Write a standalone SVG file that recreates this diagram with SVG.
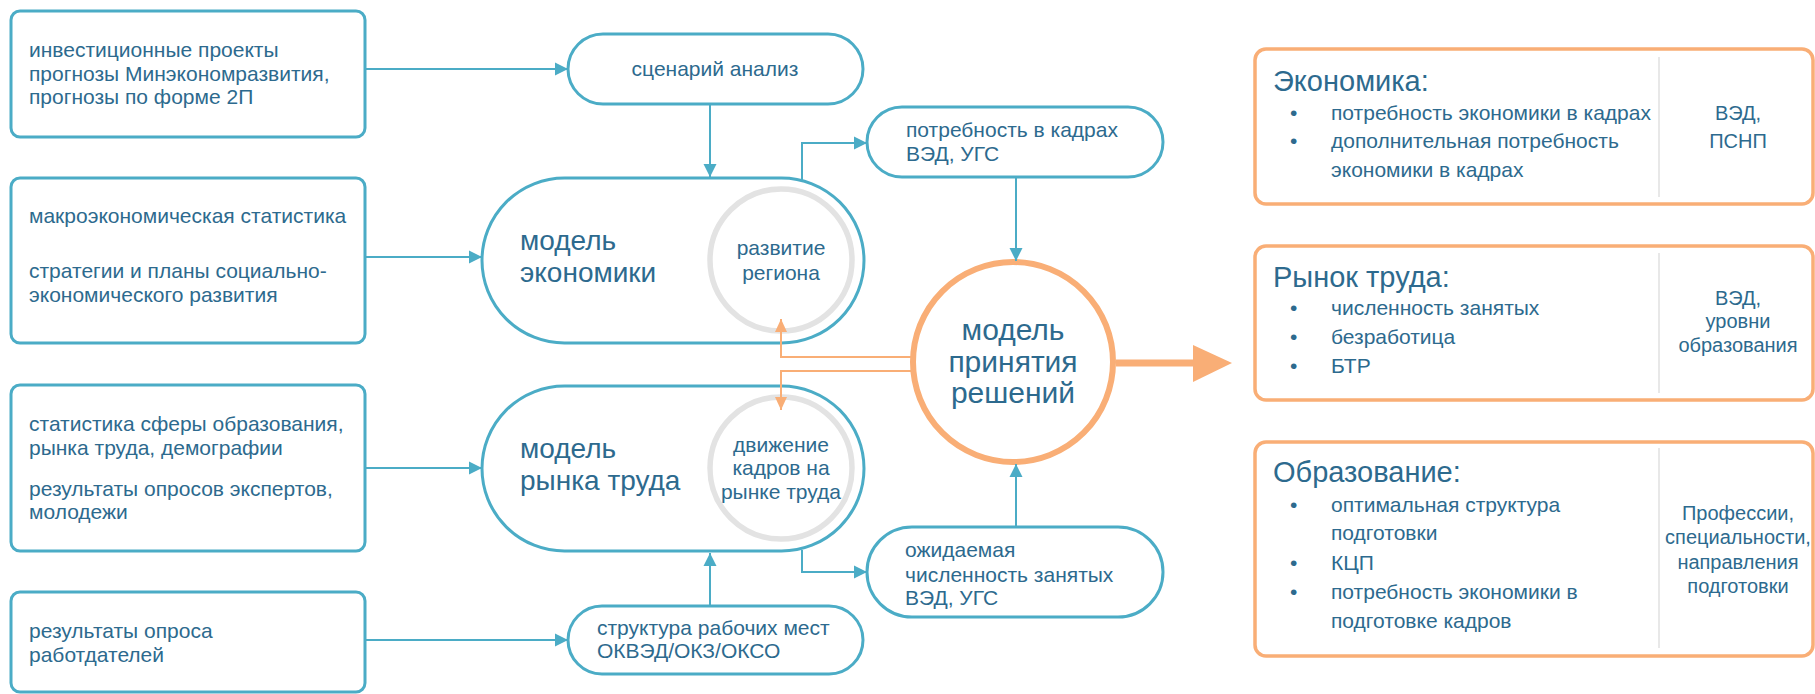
<svg xmlns="http://www.w3.org/2000/svg" width="1815" height="694" viewBox="0 0 1815 694">
<style>
.box{fill:#fff;stroke:#4BACC6;stroke-width:3}
.obox{fill:#fff;stroke:#F9AE76;stroke-width:3.5}
.t{font-family:"Liberation Sans",Arial,sans-serif;fill:#2D6A8E}
.s20{font-size:20px}
.s21{font-size:21px}
.s28{font-size:28px}
.s29{font-size:29px}
.s30{font-size:30px}
.mid{text-anchor:middle}
.gc{fill:none;stroke:#E3E3E3;stroke-width:5.5}
.bl{fill:none;stroke:#4BACC6;stroke-width:2}
.ol{fill:none;stroke:#F9AE76;stroke-width:2}
.div{stroke:#E0E0E0;stroke-width:1.5}
</style>
<defs>
<marker id="ab" markerUnits="userSpaceOnUse" markerWidth="14" markerHeight="14" refX="13" refY="7" orient="auto"><path d="M0,0.5 L13,7 L0,13.5 z" fill="#4BACC6"/></marker>
<marker id="ao" markerUnits="userSpaceOnUse" markerWidth="14" markerHeight="14" refX="13" refY="7" orient="auto"><path d="M0,1 L13,7 L0,13 z" fill="#F9AE76"/></marker>
</defs>

<g id="in1">
<rect class="box" x="11" y="11" width="354" height="126" rx="9"/>
<text class="t s21" x="29" y="57">инвестиционные проекты</text>
<text class="t s21" x="29" y="81">прогнозы Минэкономразвития,</text>
<text class="t s21" x="29" y="104">прогнозы по форме 2П</text>
</g>
<g id="in2">
<rect class="box" x="11" y="178" width="354" height="165" rx="9"/>
<text class="t s21" x="29" y="223">макроэкономическая статистика</text>
<text class="t s21" x="29" y="278">стратегии и планы социально-</text>
<text class="t s21" x="29" y="302">экономического развития</text>
</g>
<g id="in3">
<rect class="box" x="11" y="385" width="354" height="166" rx="9"/>
<text class="t s21" x="29" y="431">статистика сферы образования,</text>
<text class="t s21" x="29" y="455">рынка труда, демографии</text>
<text class="t s21" x="29" y="496">результаты опросов экспертов,</text>
<text class="t s21" x="29" y="519">молодежи</text>
</g>
<g id="in4">
<rect class="box" x="11" y="592" width="354" height="100" rx="9"/>
<text class="t s21" x="29" y="638">результаты опроса</text>
<text class="t s21" x="29" y="662">работдателей</text>
</g>

<g id="scenario">
<rect class="box" x="568" y="34" width="295" height="70" rx="35"/>
<text class="t s21 mid" x="715" y="76">сценарий анализ</text>
</g>
<g id="structure">
<rect class="box" x="568" y="606" width="295" height="68" rx="34"/>
<text class="t s21" x="597" y="635">структура рабочих мест</text>
<text class="t s21" x="597" y="658">ОКВЭД/ОКЗ/ОКСО</text>
</g>

<g id="model-economy">
<rect class="box" x="482" y="178" width="382" height="165" rx="82.5"/>
<circle class="gc" cx="781" cy="260" r="71"/>
<text class="t s28" x="520" y="250">модель</text>
<text class="t s28" x="520" y="282">экономики</text>
<text class="t s21 mid" x="781" y="255">развитие</text>
<text class="t s21 mid" x="781" y="280">региона</text>
</g>
<g id="model-labor">
<rect class="box" x="482" y="386" width="382" height="165" rx="82.5"/>
<circle class="gc" cx="781" cy="468" r="71"/>
<text class="t s28" x="520" y="458">модель</text>
<text class="t s28" x="520" y="490">рынка труда</text>
<text class="t s21 mid" x="781" y="452">движение</text>
<text class="t s21 mid" x="781" y="475">кадров на</text>
<text class="t s21 mid" x="781" y="499">рынке труда</text>
</g>

<g id="need">
<rect class="box" x="867" y="107" width="296" height="70" rx="35"/>
<text class="t s21" x="906" y="137">потребность в кадрах</text>
<text class="t s21" x="906" y="161">ВЭД, УГС</text>
</g>
<g id="expected">
<rect class="box" x="867" y="527" width="296" height="90" rx="45"/>
<text class="t s21" x="905" y="557">ожидаемая</text>
<text class="t s21" x="905" y="582">численность занятых</text>
<text class="t s21" x="905" y="605">ВЭД, УГС</text>
</g>

<g id="decision">
<circle cx="1013" cy="362" r="100" fill="#fff" stroke="#F9AE76" stroke-width="6"/>
<text class="t s30 mid" x="1013" y="340">модель</text>
<text class="t s30 mid" x="1013" y="372">принятия</text>
<text class="t s30 mid" x="1013" y="403">решений</text>
</g>

<g id="out-economy">
<rect class="obox" x="1255" y="49" width="558" height="155" rx="11"/>
<line class="div" x1="1659" y1="57" x2="1659" y2="197"/>
<text class="t s29" x="1273" y="91">Экономика:</text>
<text class="t s21" x="1290" y="120">•</text>
<text class="t s21" x="1331" y="120">потребность экономики в кадрах</text>
<text class="t s21" x="1290" y="148">•</text>
<text class="t s21" x="1331" y="148">дополнительная потребность</text>
<text class="t s21" x="1331" y="177">экономики в кадрах</text>
<text class="t s20 mid" x="1738" y="120">ВЭД,</text>
<text class="t s20 mid" x="1738" y="148">ПСНП</text>
</g>
<g id="out-labor">
<rect class="obox" x="1255" y="246" width="558" height="154" rx="11"/>
<line class="div" x1="1659" y1="253" x2="1659" y2="393"/>
<text class="t s29" x="1273" y="287">Рынок труда:</text>
<text class="t s21" x="1290" y="315">•</text>
<text class="t s21" x="1331" y="315">численность занятых</text>
<text class="t s21" x="1290" y="344">•</text>
<text class="t s21" x="1331" y="344">безработица</text>
<text class="t s21" x="1290" y="373">•</text>
<text class="t s21" x="1331" y="373">БТР</text>
<text class="t s20 mid" x="1738" y="305">ВЭД,</text>
<text class="t s20 mid" x="1738" y="328">уровни</text>
<text class="t s20 mid" x="1738" y="352">образования</text>
</g>
<g id="out-education">
<rect class="obox" x="1255" y="442" width="558" height="214" rx="11"/>
<line class="div" x1="1659" y1="448" x2="1659" y2="648"/>
<text class="t s29" x="1273" y="482">Образование:</text>
<text class="t s21" x="1290" y="512">•</text>
<text class="t s21" x="1331" y="512">оптимальная структура</text>
<text class="t s21" x="1331" y="540">подготовки</text>
<text class="t s21" x="1290" y="570">•</text>
<text class="t s21" x="1331" y="570">КЦП</text>
<text class="t s21" x="1290" y="599">•</text>
<text class="t s21" x="1331" y="599">потребность экономики в</text>
<text class="t s21" x="1331" y="628">подготовке кадров</text>
<text class="t s20 mid" x="1738" y="520">Профессии,</text>
<text class="t s20 mid" x="1738" y="544">специальности,</text>
<text class="t s20 mid" x="1738" y="569">направления</text>
<text class="t s20 mid" x="1738" y="593">подготовки</text>
</g>

<g id="connectors">
<line class="bl" x1="365" y1="69" x2="568" y2="69" marker-end="url(#ab)"/>
<line class="bl" x1="710" y1="104" x2="710" y2="177" marker-end="url(#ab)"/>
<line class="bl" x1="365" y1="257" x2="482" y2="257" marker-end="url(#ab)"/>
<polyline class="bl" points="802,180 802,143 867,143" marker-end="url(#ab)"/>
<line class="bl" x1="1016" y1="177" x2="1016" y2="261" marker-end="url(#ab)"/>
<line class="bl" x1="365" y1="468" x2="482" y2="468" marker-end="url(#ab)"/>
<polyline class="bl" points="802,550 802,572 867,572" marker-end="url(#ab)"/>
<line class="bl" x1="1016" y1="527" x2="1016" y2="464" marker-end="url(#ab)"/>
<line class="bl" x1="365" y1="640" x2="568" y2="640" marker-end="url(#ab)"/>
<line class="bl" x1="710" y1="606" x2="710" y2="553" marker-end="url(#ab)"/>
<polyline class="ol" points="912,357 781,357 781,319" marker-end="url(#ao)"/>
<polyline class="ol" points="912,371 781,371 781,410" marker-end="url(#ao)"/>
<line x1="1116" y1="363" x2="1196" y2="363" stroke="#F9AE76" stroke-width="7"/>
<polygon points="1193,345 1232,363 1193,382" fill="#F9AE76"/>
</g>
</svg>
